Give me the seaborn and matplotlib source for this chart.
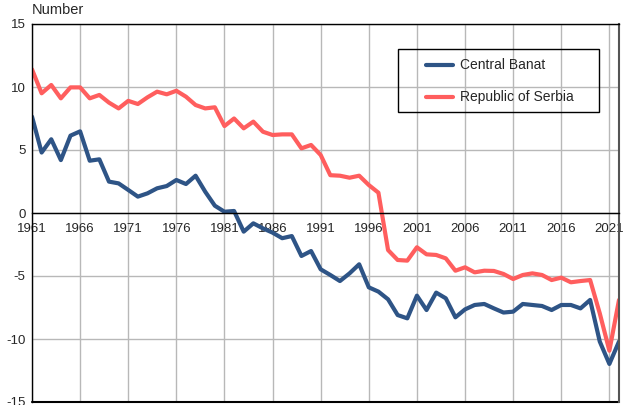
import pandas as pd
import seaborn as sns
import matplotlib.pyplot as plt
from matplotlib.patches import Rectangle

years = list(range(1961, 2023))

central_banat = [
    7.65, 4.8, 5.85, 4.2, 6.14, 6.48, 4.15, 4.26, 2.49, 2.35,
    1.83, 1.3, 1.56, 1.96, 2.14, 2.62, 2.3, 2.96, 1.69, 0.58,
    0.1, 0.16, -1.48, -0.82, -1.22, -1.56, -2.0, -1.83, -3.41, -3.02,
    -4.47, -4.92, -5.4, -4.79, -4.07, -5.9, -6.24, -6.85, -8.1, -8.36,
    -6.56, -7.7, -6.32, -6.77, -8.28, -7.65, -7.3, -7.22, -7.57, -7.9,
    -7.83, -7.22, -7.3, -7.38, -7.7, -7.3, -7.3, -7.57, -6.9, -10.2,
    -11.98, -10.2,
]

serbia = [
    11.4, 9.5, 10.16, 9.1, 9.97, 9.97, 9.1, 9.37, 8.76, 8.3,
    8.9, 8.65, 9.18, 9.63, 9.42, 9.7, 9.23, 8.57, 8.3, 8.39,
    6.9, 7.5, 6.72, 7.25, 6.45, 6.19, 6.24, 6.24, 5.13, 5.4,
    4.6, 3.0, 2.96, 2.8, 2.96, 2.22, 1.61, -2.94, -3.73, -3.78,
    -2.72, -3.28, -3.33, -3.6, -4.58, -4.31, -4.71, -4.58, -4.6, -4.84,
    -5.24, -4.92, -4.79, -4.92, -5.32, -5.13, -5.5, -5.4, -5.32, -7.96,
    -10.93, -6.9,
]

series_names = ['Central Banat', 'Republic of Serbia']
colors = ['#2E5486', '#FF5E5E']

x_ticks = list(range(1961, 2022, 5))
y_ticks = [-15, -10, -5, 0, 5, 10, 15]

df = pd.DataFrame({
    'year': years * 2,
    'value': central_banat + serbia,
    'region': [series_names[0]] * len(years) + [series_names[1]] * len(years),
})

sns.set_style('white')
plt.rcParams['font.family'] = ['Liberation Sans', 'DejaVu Sans']
plt.rcParams['axes.unicode_minus'] = False

fig = plt.figure(figsize=(6.28, 4.05), dpi=100)
ax = fig.add_axes([32 / 628, 1 - 402 / 405, 587 / 628, 378 / 405])

sns.lineplot(data=df, x='year', y='value', hue='region', palette=colors,
             linewidth=3, ax=ax, legend=True)

ax.set_xlim(1961, 2022)
ax.set_ylim(-15, 15)
ax.set_xticks(x_ticks)
ax.set_yticks(y_ticks)
ax.set_xlabel('')
ax.set_ylabel('')
ax.grid(True, color='#b8b8b8', linewidth=1)
ax.set_axisbelow(True)

# x axis runs through zero, frame bottom drawn separately
ax.spines['bottom'].set_position(('data', 0))
for s in ax.spines.values():
    s.set_color('black')
    s.set_linewidth(1)
ax.spines['right'].set_color('#555555')
ax.spines['right'].set_linewidth(1.5)
ax.plot([0, 1], [0, 0], transform=ax.transAxes, color='black',
        linewidth=1.5, clip_on=False)
ax.tick_params(axis='x', length=0, pad=7, labelsize=9.5)
ax.tick_params(axis='y', length=0, pad=4.5, labelsize=9.5)

ax.annotate('Number', xy=(0, 1), xycoords='axes fraction', xytext=(0, 5),
            textcoords='offset points', ha='left', va='bottom', fontsize=10.5)

handles, labels = ax.get_legend_handles_labels()
leg = ax.legend(handles, labels, loc='center', bbox_to_anchor=(0.797, 0.848),
                frameon=False, fontsize=10, handlelength=2.0,
                handletextpad=0.5, labelspacing=1.3)
ax.add_patch(Rectangle((0.6235, 0.767), 0.3425, 0.167, transform=ax.transAxes,
                       fill=False, edgecolor='black', linewidth=1, zorder=5))

fig.savefig('out.png', dpi=100)
